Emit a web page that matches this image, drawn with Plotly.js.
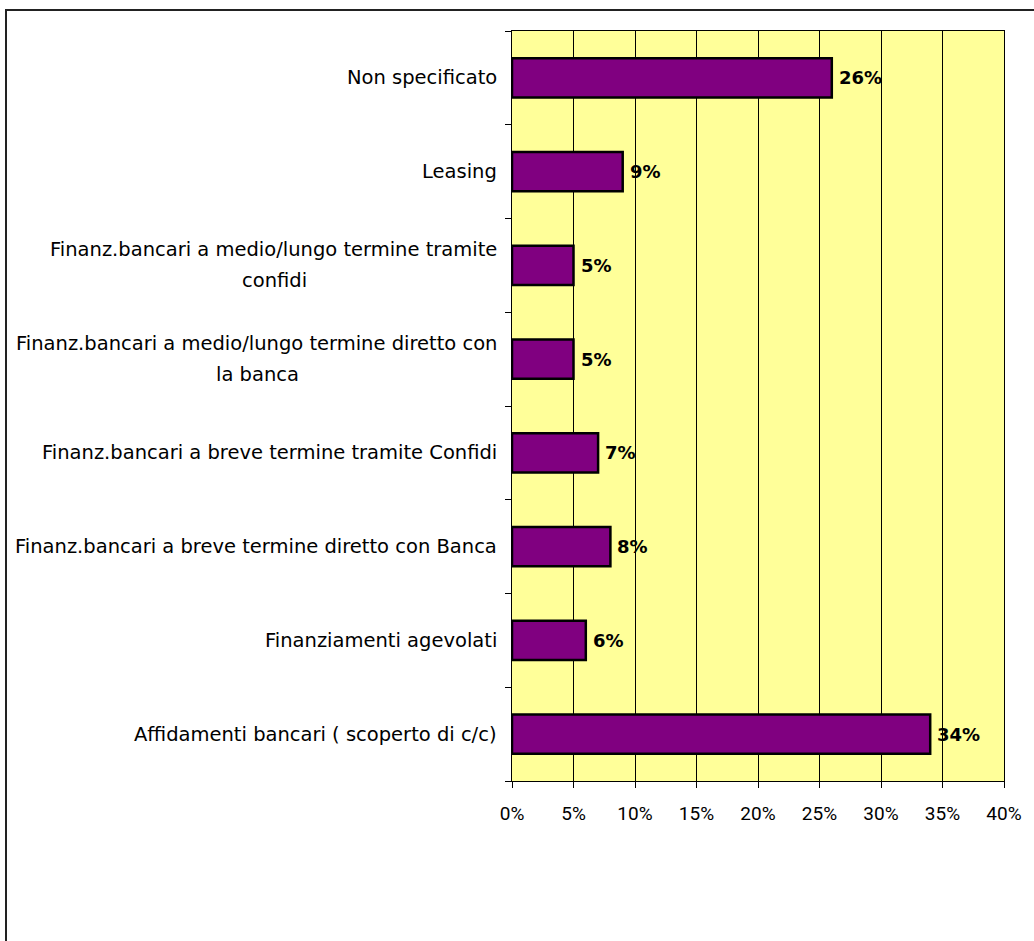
<!DOCTYPE html>
<html>
<head>
<meta charset="utf-8">
<script src="https://cdn.plot.ly/plotly-3.0.1.min.js"></script>
<style>
html,body{margin:0;padding:0;background:#fff;}
#chart{width:1034px;height:941px;}
</style>
</head>
<body>
<div id="chart"></div>
<script>
// Categories (bottom to top), values in percent
const categories = [
  "Affidamenti bancari ( scoperto di c/c)",
  "Finanziamenti agevolati",
  "Finanz.bancari a breve termine diretto con Banca",
  "Finanz.bancari a breve termine tramite Confidi",
  "Finanz.bancari a medio/lungo termine diretto con la banca",
  "Finanz.bancari a medio/lungo termine tramite confidi",
  "Leasing",
  "Non specificato"
];
const categoryLabelLines = [
  ["Affidamenti bancari ( scoperto di c/c)"],
  ["Finanziamenti agevolati"],
  ["Finanz.bancari a breve termine diretto con Banca"],
  ["Finanz.bancari a breve termine tramite Confidi"],
  ["Finanz.bancari a medio/lungo termine diretto con", "la banca"],
  ["Finanz.bancari a medio/lungo termine tramite", "confidi"],
  ["Leasing"],
  ["Non specificato"]
];
const values = [34, 6, 8, 7, 5, 5, 9, 26];
const valueLabels = ["34%", "6%", "8%", "7%", "5%", "5%", "9%", "26%"];
const xTickVals = [0, 5, 10, 15, 20, 25, 30, 35, 40];
const xTickText = ["0%", "5%", "10%", "15%", "20%", "25%", "30%", "35%", "40%"];

const catFont = {family: "DejaVu Sans", size: 19.5, color: "#000"};
const lblFont = {family: "DejaVu Sans", size: 18, color: "#000", weight: "bold"};

// measure text width for centering wrapped lines
const cv = document.createElement("canvas").getContext("2d");
cv.font = catFont.size + "px 'DejaVu Sans'";

const plotLeft = 512, plotRight = 1004, plotTop = 31, plotBottom = 781;
const plotW = plotRight - plotLeft;
const labelGap = 14;
const lineGap = 31;

const annotations = [];
categories.forEach((c, i) => {
  const lines = categoryLabelLines[i];
  if (lines.length === 1) {
    annotations.push({xref: "paper", yref: "y", x: 0, y: c, text: lines[0],
      showarrow: false, xanchor: "right", yanchor: "middle", xshift: -labelGap,
      font: catFont, borderpad: 0});
  } else {
    const w1 = cv.measureText(lines[0]).width;
    annotations.push({xref: "paper", yref: "y", x: 0, y: c, text: lines[0],
      showarrow: false, xanchor: "right", yanchor: "middle", xshift: -labelGap,
      yshift: lineGap / 2, font: catFont, borderpad: 0});
    annotations.push({xref: "paper", yref: "y", x: 0, y: c, text: lines[1],
      showarrow: false, xanchor: "center", yanchor: "middle",
      xshift: -labelGap - w1 / 2, yshift: -lineGap / 2, font: catFont, borderpad: 0});
  }
  annotations.push({xref: "x", yref: "y", x: values[i], y: c, text: valueLabels[i],
    showarrow: false, xanchor: "left", yanchor: "middle", xshift: 6,
    font: lblFont, borderpad: 0});
});

const trace = {
  type: "bar",
  orientation: "h",
  x: values,
  y: categories,
  marker: {color: "#800080", line: {color: "#000", width: 2.5}},
  hoverinfo: "none"
};

const layout = {
  width: 1034,
  height: 941,
  margin: {l: plotLeft, r: 1034 - plotRight, t: plotTop, b: 941 - plotBottom, pad: 0},
  paper_bgcolor: "#fff",
  plot_bgcolor: "#FFFF99",
  showlegend: false,
  bargap: 0.58,
  xaxis: {
    range: [0, 40],
    tickvals: xTickVals,
    ticktext: xTickText,
    ticks: "outside",
    ticklen: 6,
    tickcolor: "#000",
    showgrid: true,
    gridcolor: "#000",
    gridwidth: 1,
    showline: true,
    linecolor: "#000",
    linewidth: 1,
    mirror: true,
    zeroline: false,
    tickfont: {family: "Roboto", size: 19, color: "#000"},
    ticklabelstandoff: 9,
    fixedrange: true
  },
  yaxis: {
    type: "category",
    categoryorder: "array",
    categoryarray: categories,
    range: [-0.5, 7.5],
    ticks: "outside",
    tickson: "boundaries",
    ticklen: 6,
    tickcolor: "#000",
    showticklabels: false,
    showgrid: false,
    showline: true,
    linecolor: "#000",
    linewidth: 1,
    mirror: true,
    zeroline: false,
    fixedrange: true
  },
  annotations: annotations,
  shapes: [{
    type: "rect", xref: "paper", yref: "paper",
    x0: (6 - plotLeft) / plotW, x1: 1.6,
    y0: -0.6, y1: (plotBottom - 10) / (plotBottom - plotTop),
    line: {color: "#222", width: 2}, fillcolor: "rgba(0,0,0,0)", layer: "above"
  }]
};

Plotly.newPlot("chart", [trace], layout, {displayModeBar: false, staticPlot: true});
</script>
</body>
</html>
